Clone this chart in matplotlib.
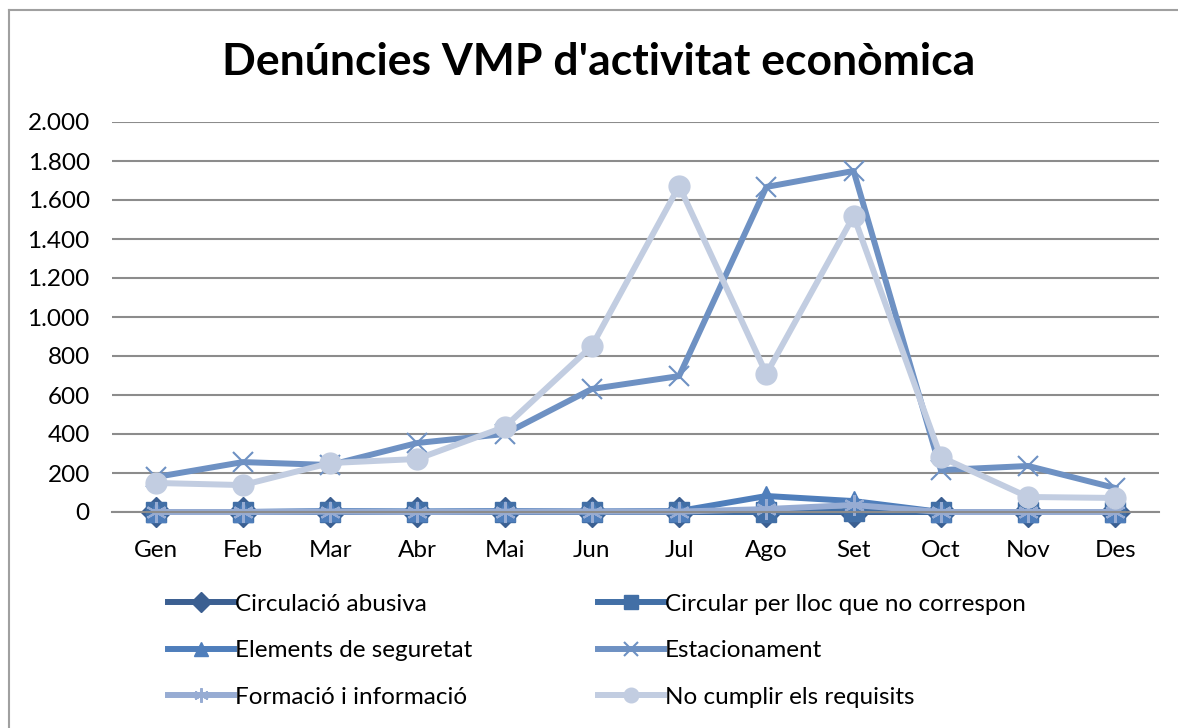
import matplotlib.pyplot as plt
from matplotlib.lines import Line2D
from matplotlib.ticker import FuncFormatter

plt.rcParams['font.family'] = ['Lato', 'DejaVu Sans']

# Data
months = ['Gen', 'Feb', 'Mar', 'Abr', 'Mai', 'Jun', 'Jul', 'Ago', 'Set', 'Oct', 'Nov', 'Des']
circulacio_abusiva = [0, 0, 0, 0, 0, 0, 0, 0, 0, 0, 0, 0]
circular_lloc = [0, 0, 0, 0, 0, 0, 0, 0, 5, 0, 0, 0]
elements_seguretat = [0, 0, 5, 3, 5, 3, 5, 82, 56, 0, 0, 0]
estacionament = [179, 256, 241, 354, 400, 631, 697, 1667, 1749, 215, 236, 123]
formacio = [0, 0, 2, 0, 2, 2, 2, 15, 36, 0, 0, 0]
no_cumplir = [149, 138, 251, 272, 436, 851, 1672, 708, 1518, 282, 77, 72]

series = [
    ('Circulació abusiva', circulacio_abusiva, '#3B5F91', 'D'),
    ('Circular per lloc que no correspon', circular_lloc, '#426FA6', 's'),
    ('Elements de seguretat', elements_seguretat, '#4F7EBB', '^'),
    ('Estacionament', estacionament, '#6E91C3', 'x'),
    ('Formació i informació', formacio, '#97ACD3', (6, 2, 0)),
    ('No cumplir els requisits', no_cumplir, '#C2CDE1', 'o'),
]

fig = plt.figure(figsize=(11.78, 7.28), dpi=100)
ax = fig.add_axes([112 / 1178, 1 - 512 / 728, (1159 - 112) / 1178, 390 / 728])

x = list(range(len(months)))
handles = []
for name, vals, col, mk in series:
    ms = 15 if mk != 'x' else 14
    h, = ax.plot(x, vals, color=col, lw=4.3, marker=mk, markersize=ms,
                 markerfacecolor=col, markeredgecolor=col,
                 markeredgewidth=1.5 if mk in ('x', (6, 2, 0)) else 1,
                 label=name, solid_joinstyle='round', clip_on=False)
    handles.append(h)

ax.set_xlim(-0.5, 11.5)
ax.set_ylim(0, 2000)
ax.set_yticks(range(0, 2001, 200))
ax.yaxis.set_major_formatter(FuncFormatter(lambda v, p: f'{int(v):,}'.replace(',', '.')))
ax.set_xticks(x)
ax.set_xticklabels(months)
ax.grid(axis='y', color='#8C8C8C', lw=1.5)
ax.set_axisbelow(True)
for s in ['top', 'right', 'left']:
    ax.spines[s].set_visible(False)
ax.spines['bottom'].set_color('#8C8C8C')
ax.spines['bottom'].set_linewidth(1.5)
ax.tick_params(axis='both', length=0, labelsize=17.5)
ax.tick_params(axis='x', pad=20)
ax.tick_params(axis='y', pad=16)

fig.text(0.508, 1 - 62 / 728, "Denúncies VMP d'activitat econòmica",
         ha='center', va='center', fontsize=32, fontweight='bold')

order = [0, 2, 4, 1, 3, 5]
leg = fig.legend([handles[i] for i in order], [series[i][0] for i in order],
                 ncol=2, loc='upper left', bbox_to_anchor=(146 / 1178, 1 - 572 / 728),
                 frameon=False, fontsize=17.5, handlelength=2.7, handletextpad=0.05,
                 columnspacing=5.2, labelspacing=1.05, markerscale=0.7)

# chart border
fig.add_artist(Line2D([9 / 1178, 9 / 1178], [0, 1 - 10 / 728], color='#A0A0A0', lw=1.5))
fig.add_artist(Line2D([9 / 1178, 1], [1 - 10 / 728, 1 - 10 / 728], color='#A0A0A0', lw=1.5))

fig.savefig('out.png', dpi=100)
